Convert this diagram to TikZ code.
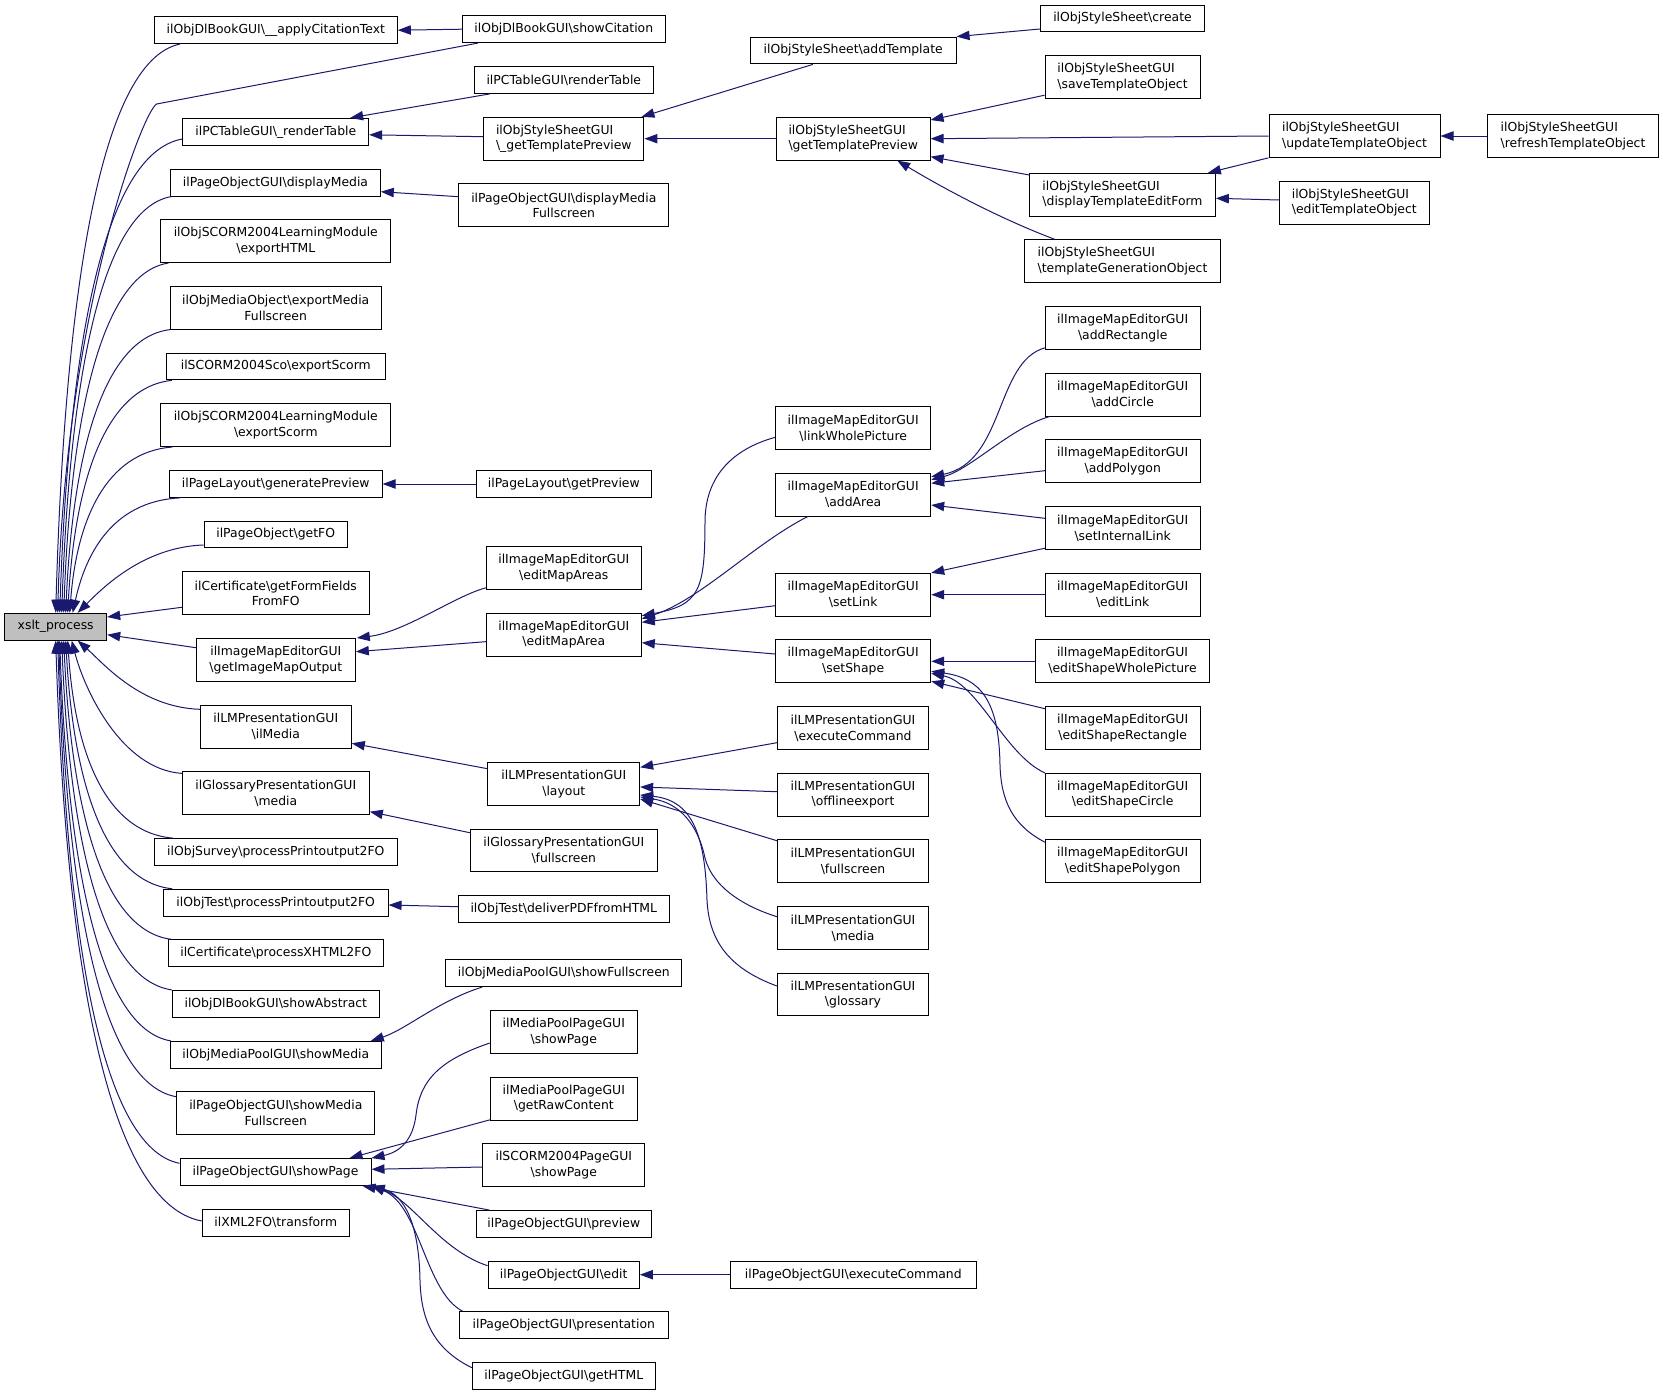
\documentclass[tikz,border=0pt]{standalone}
\usepackage{fontspec}
\newfontfamily\djv{DejaVu Sans}
\usetikzlibrary{arrows.meta,calc}
\definecolor{edgec}{HTML}{191970}
\definecolor{xfill}{HTML}{BFBFBF}
\newcommand\bsl{\textbackslash}
\newcommand\nfnt{\djv\fontsize{9.3}{11.8}\selectfont}
\begin{document}
\begin{tikzpicture}[x=0.75pt,y=-0.75pt,
  nd/.style={draw=black, line width=0.75pt, inner xsep=2pt, inner ysep=0pt, font=\nfnt, minimum height=20.1pt, align=center},
  nd2/.style={nd, minimum height=32pt},
  w/.style={minimum width=#1*0.75pt},
  e/.style={draw=edgec, line width=0.75pt, -{Triangle[length=9.75pt,width=7pt]}}]
\useasboundingbox (0,0) rectangle (1664,1395);
\fill[white] (0,0) rectangle (1664,1395);
% column 1
\node[nd,w=102,fill=xfill] (xslt) at (55.7,626.7) {xslt\_process};
\node[nd,w=243] (cite) at (275.8,30.2) {ilObjDlBookGUI\bsl\_\_applyCitationText};
\node[nd,w=185.7] (rtab) at (275.8,131.8) {ilPCTableGUI\bsl\_renderTable};
\node[nd,w=209.6] (dmedia) at (275.5,182.7) {ilPageObjectGUI\bsl displayMedia};
\node[nd2,w=229.7] (exphtml) at (275.8,241.2) {ilObjSCORM2004LearningModule\\\bsl exportHTML};
\node[nd2,w=210.7] (expmf) at (275.7,307.8) {ilObjMediaObject\bsl exportMedia\\Fullscreen};
\node[nd,w=219] (scoexp) at (275.8,366.5) {ilSCORM2004Sco\bsl exportScorm};
\node[nd2,w=229.7] (lmexp) at (275.8,425.2) {ilObjSCORM2004LearningModule\\\bsl exportScorm};
\node[nd,w=212.7] (genprev) at (275.7,484) {ilPageLayout\bsl generatePreview};
\node[nd,w=143.3] (getfo) at (275.7,534.5) {ilPageObject\bsl getFO};
\node[nd2,w=187] (formfo) at (275.8,593.3) {ilCertificate\bsl getFormFields\\FromFO};
\node[nd2,w=159] (imgout) at (275.8,659.8) {ilImageMapEditorGUI\\\bsl getImageMapOutput};
\node[nd2,w=151] (ilmedia) at (275.8,726.7) {ilLMPresentationGUI\\\bsl ilMedia};
\node[nd2,w=187] (glmedia) at (275.8,793.2) {ilGlossaryPresentationGUI\\\bsl media};
\node[nd,w=243] (survey) at (275.8,852) {ilObjSurvey\bsl processPrintoutput2FO};
\node[nd,w=224.7] (testpp) at (275.7,902.7) {ilObjTest\bsl processPrintoutput2FO};
\node[nd,w=215] (xhtml) at (275.8,953.2) {ilCertificate\bsl processXHTML2FO};
\node[nd,w=207] (abstract) at (275.8,1003.8) {ilObjDlBookGUI\bsl showAbstract};
\node[nd,w=211] (showmedia) at (275.8,1054.8) {ilObjMediaPoolGUI\bsl showMedia};
\node[nd2,w=198.3] (smfull) at (275.8,1113.2) {ilPageObjectGUI\bsl showMedia\\Fullscreen};
\node[nd,w=191] (showpage) at (275.5,1172) {ilPageObjectGUI\bsl showPage};
\node[nd,w=147] (xml2fo) at (275.8,1222.8) {ilXML2FO\bsl transform};
% column 2
\node[nd,w=203] (showcit) at (563.8,29.2) {ilObjDlBookGUI\bsl showCitation};
\node[nd,w=179] (rtable) at (563.8,80) {ilPCTableGUI\bsl renderTable};
\node[nd2,w=160.3,align=left] (gtpu) at (563.8,138.7) {ilObjStyleSheetGUI\\\bsl\_getTemplatePreview};
\node[nd2,w=209.7] (dmfull) at (563.8,205.3) {ilPageObjectGUI\bsl displayMedia\\Fullscreen};
\node[nd,w=175] (getprev) at (563.8,484) {ilPageLayout\bsl getPreview};
\node[nd2,w=155] (emas) at (563.8,568) {ilImageMapEditorGUI\\\bsl editMapAreas};
\node[nd2,w=155] (ema) at (563.8,634.7) {ilImageMapEditorGUI\\\bsl editMapArea};
\node[nd2,w=151.7] (layout) at (563.8,784) {ilLMPresentationGUI\\\bsl layout};
\node[nd2,w=187] (glfull) at (563.8,850.5) {ilGlossaryPresentationGUI\\\bsl fullscreen};
\node[nd,w=211] (deliver) at (563.8,909.2) {ilObjTest\bsl deliverPDFfromHTML};
\node[nd,w=236.3] (mpfull) at (563.8,973.2) {ilObjMediaPoolGUI\bsl showFullscreen};
\node[nd2,w=147] (mpshow) at (563.8,1032) {ilMediaPoolPageGUI\\\bsl showPage};
\node[nd2,w=147] (mpraw) at (563.8,1098.7) {ilMediaPoolPageGUI\\\bsl getRawContent};
\node[nd2,w=161.7] (scopage) at (563.8,1165.3) {ilSCORM2004PageGUI\\\bsl showPage};
\node[nd,w=175] (preview) at (563.8,1224) {ilPageObjectGUI\bsl preview};
\node[nd,w=151.3] (edit) at (563.7,1274.7) {ilPageObjectGUI\bsl edit};
\node[nd,w=209] (present) at (563.8,1325.2) {ilPageObjectGUI\bsl presentation};
\node[nd,w=183] (gethtml) at (563.8,1376) {ilPageObjectGUI\bsl getHTML};
% column 3
\node[nd,w=205.7] (addtpl) at (853.2,50.5) {ilObjStyleSheet\bsl addTemplate};
\node[nd2,w=153.7,align=left] (gtp) at (853.2,138.7) {ilObjStyleSheetGUI\\\bsl getTemplatePreview};
\node[nd2,w=155] (lwp) at (853.2,428) {ilImageMapEditorGUI\\\bsl linkWholePicture};
\node[nd2,w=155] (addarea) at (853.2,494.7) {ilImageMapEditorGUI\\\bsl addArea};
\node[nd2,w=155] (setlink) at (853.2,594.7) {ilImageMapEditorGUI\\\bsl setLink};
\node[nd2,w=155] (setshape) at (853.2,661.3) {ilImageMapEditorGUI\\\bsl setShape};
\node[nd2,w=151.3] (lmexec) at (853,728) {ilLMPresentationGUI\\\bsl executeCommand};
\node[nd2,w=151.3] (offline) at (853,794.7) {ilLMPresentationGUI\\\bsl offlineexport};
\node[nd2,w=151.3] (lmfull) at (853,861.3) {ilLMPresentationGUI\\\bsl fullscreen};
\node[nd2,w=151.3] (lmmedia) at (853,928) {ilLMPresentationGUI\\\bsl media};
\node[nd2,w=151.3] (glossary) at (853,994.5) {ilLMPresentationGUI\\\bsl glossary};
\node[nd,w=246] (pexec) at (853.3,1274.7) {ilPageObjectGUI\bsl executeCommand};
% column 4
\node[nd,w=164.4] (create) at (1122.5,18.5) {ilObjStyleSheet\bsl create};
\node[nd2,w=155,align=left] (savetpl) at (1122.5,77.2) {ilObjStyleSheetGUI\\\bsl saveTemplateObject};
\node[nd2,w=185.7,align=left] (dtef) at (1122.5,194.7) {ilObjStyleSheetGUI\\\bsl displayTemplateEditForm};
\node[nd2,w=196.3,align=left] (tgo) at (1122.5,261.2) {ilObjStyleSheetGUI\\\bsl templateGenerationObject};
\node[nd2,w=154.7] (addrect) at (1122.7,328) {ilImageMapEditorGUI\\\bsl addRectangle};
\node[nd2,w=154.7] (addcirc) at (1122.7,394.7) {ilImageMapEditorGUI\\\bsl addCircle};
\node[nd2,w=154.7] (addpoly) at (1122.7,461.3) {ilImageMapEditorGUI\\\bsl addPolygon};
\node[nd2,w=154.7] (setint) at (1122.7,528) {ilImageMapEditorGUI\\\bsl setInternalLink};
\node[nd2,w=154.7] (editlink) at (1122.7,594.7) {ilImageMapEditorGUI\\\bsl editLink};
\node[nd2,w=173.7] (eswp) at (1122.5,661.3) {ilImageMapEditorGUI\\\bsl editShapeWholePicture};
\node[nd2,w=154.7] (esrect) at (1122.7,728) {ilImageMapEditorGUI\\\bsl editShapeRectangle};
\node[nd2,w=154.7] (escirc) at (1122.7,794.7) {ilImageMapEditorGUI\\\bsl editShapeCircle};
\node[nd2,w=154.7] (espoly) at (1122.7,861.3) {ilImageMapEditorGUI\\\bsl editShapePolygon};
% columns 5, 6
\node[nd2,w=171,align=left] (update) at (1354.5,136) {ilObjStyleSheetGUI\\\bsl updateTemplateObject};
\node[nd2,w=150,align=left] (edittpl) at (1354.3,202.7) {ilObjStyleSheetGUI\\\bsl editTemplateObject};
\node[nd2,w=171.3,align=left] (refresh) at (1573,136) {ilObjStyleSheetGUI\\\bsl refreshTemplateObject};
% edges into xslt_process (upper)
\draw[e] ($(cite.south west)+(26,0)$) .. controls +(-81,17) and +(9,-313) .. (xslt.north);
\draw[e] ($(showcit.south west)+(16,0)$) -- (156.7,104) .. controls +(-14,7) and +(8,-300) .. ($(xslt.north)+(2,0)$);
\draw[e] ($(rtab.west)+(0,7.2)$) .. controls +(-80,14) and +(9,-261) .. ($(xslt.north)+(4,0)$);
\draw[e] ($(dmedia.south west)+(1,0)$) .. controls +(-71,12.5) and +(8,-229) .. ($(xslt.north)+(6,0)$);
\draw[e] ($(exphtml.south west)+(8,0)$) .. controls +(-68,10.5) and +(7,-193) .. ($(xslt.north)+(8,0)$);
\draw[e] (expmf.south west) .. controls +(-68,8.5) and +(7,-156) .. ($(xslt.north)+(10,0)$);
\draw[e] ($(scoexp.south west)+(6,0)$) .. controls +(-68,7) and +(7,-128) .. ($(xslt.north)+(12,0)$);
\draw[e] ($(lmexp.south west)+(12,0)$) .. controls +(-67,5) and +(7,-92) .. ($(xslt.north)+(14,0)$);
\draw[e] ($(genprev.south west)+(11,0)$) .. controls +(-70,3.5) and +(12,-55) .. ($(xslt.north)+(17,0)$);
\draw[e] ($(getfo.west)+(0,10.5)$) .. controls +(-60,2) and +(25,-25) .. ($(xslt.north)+(22,0)$);
\draw[e] ($(formfo.west)+(0,14)$) -- ($(xslt.east)+(0,-9.7)$);
\draw[e] ($(imgout.west)+(0,-12.1)$) -- ($(xslt.east)+(0,8)$);
% edges into xslt_process (lower)
\draw[e] ($(ilmedia.west)+(0,-17.4)$) .. controls +(-60,-2) and +(25,22) .. ($(xslt.south)+(22,0)$);
\draw[e] ($(glmedia.north west)+(0,2)$) .. controls +(-60,-4) and +(13,50) .. ($(xslt.south)+(16,0)$);
\draw[e] ($(survey.north west)+(19,0)$) .. controls +(-69,-6) and +(7,109) .. ($(xslt.south)+(12,0)$);
\draw[e] ($(testpp.north west)+(9.4,0)$) .. controls +(-70,-7.5) and +(7.5,137) .. ($(xslt.south)+(10,0)$);
\draw[e] ($(xhtml.north west)+(3.4,0)$) .. controls +(-70,-9) and +(7.6,165) .. ($(xslt.south)+(8,0)$);
\draw[e] (abstract.north west) .. controls +(-72,-10.5) and +(7.7,193) .. ($(xslt.south)+(6,0)$);
\draw[e] ($(showmedia.north west)+(1,0)$) .. controls +(-72,-12) and +(7.8,221) .. ($(xslt.south)+(4,0)$);
\draw[e] ($(smfull.west)+(0,-16.5)$) .. controls +(-77,-13.7) and +(8.3,251) .. ($(xslt.south)+(3,0)$);
\draw[e] ($(showpage.west)+(0,-8.7)$) .. controls +(-80,-15.7) and +(8.6,288) .. ($(xslt.south)+(2,0)$);
\draw[e] ($(xml2fo.west)+(0,-1.8)$) .. controls +(-95,-17.4) and +(10.3,320) .. (xslt.south);
% other edges
\draw[e] (showcit.west) -- (cite.east);
\draw[e] ($(rtable.south west)+(16,0)$) -- ($(rtab.north east)+(-19,0)$);
\draw[e] ($(gtpu.west)+(0,-2)$) -- ($(rtab.east)+(0,3)$);
\draw[e] ($(addtpl.south west)+(63,0)$) -- ($(gtpu.north east)+(-3,0)$);
\draw[e] (gtp.west) -- (gtpu.east);
\draw[e] ($(create.west)+(0,10.5)$) -- (addtpl.north east);
\draw[e] ($(savetpl.west)+(0,18)$) -- ($(gtp.east)+(0,-18.7)$);
\draw[e] (update.west) -- (gtp.east);
\draw[e] ($(dtef.west)+(0,-19.7)$) -- ($(gtp.east)+(0,18)$);
\draw[e] ($(tgo.north west)+(31,0)$) .. controls +(-53,-20) and +(50,30) .. ($(gtp.south)+(44,0)$);
\draw[e] (update.south west) -- ($(dtef.north east)+(-8,0)$);
\draw[e] ($(edittpl.west)+(0,-2.7)$) -- ($(dtef.east)+(0,3.6)$);
\draw[e] (refresh.west) -- (update.east);
\draw[e] ($(dmfull.west)+(0,-8.6)$) -- ($(dmedia.east)+(0,9)$);
\draw[e] (getprev.west) -- (genprev.east);
\draw[e] ($(emas.south west)+(0,-2)$) .. controls (455,596) and (405,632) .. ($(imgout.north east)+(1,0)$);
\draw[e] ($(ema.west)+(0,7)$) -- ($(imgout.east)+(0,-8.1)$);
\draw[e] ($(lwp.west)+(0,9.3)$) .. controls (740,447) and (706,470) .. (705,520) .. controls (705,590) and (700,605) .. ($(ema.east)+(0,-19)$);
\draw[e] ($(addarea.south west)+(32.6,0)$) .. controls (755,543) and (700,600) .. ($(ema.east)+(0,-16)$);
\draw[e] ($(setlink.west)+(0,11)$) -- ($(ema.east)+(0,-12.4)$);
\draw[e] ($(setshape.west)+(0,-7.3)$) -- ($(ema.east)+(0,8)$);
\draw[e] ($(addrect.south west)+(0,-2)$) .. controls (995,362) and (1005,462) .. ($(addarea.east)+(0,-18)$);
\draw[e] ($(addcirc.south west)+(4.7,0)$) .. controls (1010,428) and (970,470) .. ($(addarea.east)+(0,-15)$);
\draw[e] ($(addpoly.west)+(0,9.4)$) -- ($(addarea.east)+(0,-11.4)$);
\draw[e] ($(setint.west)+(0,-9.7)$) -- ($(addarea.east)+(0,10.3)$);
\draw[e] ($(setint.south west)+(0,-1.6)$) -- (setlink.north east);
\draw[e] (editlink.west) -- (setlink.east);
\draw[e] (eswp.west) -- (setshape.east);
\draw[e] ($(esrect.west)+(0,-19.3)$) -- ($(setshape.east)+(0,20)$);
\draw[e] (escirc.north west) .. controls (1005,755) and (978,683) .. ($(setshape.east)+(0,12)$);
\draw[e] ($(espoly.north west)+(0,2.7)$) .. controls (1012,825) and (1001,800) .. (1000,765) .. controls (999,700) and (980,678) .. ($(setshape.east)+(0,10)$);
\draw[e] ($(layout.west)+(0,-15.3)$) -- ($(ilmedia.east)+(0,16.6)$);
\draw[e] ($(glfull.west)+(0,-17.8)$) -- ($(glmedia.east)+(0,18.5)$);
\draw[e] ($(lmexec.west)+(0,14.7)$) -- ($(layout.east)+(0,-16.7)$);
\draw[e] ($(offline.west)+(0,-3)$) -- ($(layout.east)+(0,3)$);
\draw[e] ($(lmfull.west)+(0,-20.6)$) -- ($(layout.east)+(0,15)$);
\draw[e] ($(lmmedia.west)+(0,-11.3)$) .. controls (740,905) and (712,885) .. (705,858) .. controls (698,825) and (680,803) .. ($(layout.east)+(0,13)$);
\draw[e] ($(glossary.west)+(0,-8.5)$) .. controls (728,968) and (709,940) .. (707,900) .. controls (705,830) and (690,800) .. ($(layout.east)+(0,11)$);
\draw[e] ($(deliver.west)+(0,-2.5)$) -- ($(testpp.east)+(0,2.3)$);
\draw[e] ($(mpfull.south west)+(37,0)$) .. controls (440,1000) and (405,1030) .. ($(showmedia.north east)+(-11,0)$);
\draw[e] ($(mpshow.west)+(0,11)$) .. controls (440,1060) and (420,1080) .. (416,1115) .. controls (413,1140) and (400,1152) .. (showpage.north east);
\draw[e] ($(mpraw.south west)+(0,-0.7)$) -- ($(showpage.north east)+(-22,0)$);
\draw[e] ($(scopage.west)+(0,1.7)$) -- ($(showpage.east)+(0,-2.7)$);
\draw[e] ($(preview.north west)+(13.7,0)$) -- ($(showpage.south east)+(-9,0)$);
\draw[e] ($(edit.west)+(0,-9)$) .. controls (440,1250) and (412,1200) .. (showpage.south east);
\draw[e] ($(present.north west)+(4,0)$) .. controls (425,1292) and (420,1205) .. (showpage.south east);
\draw[e] ($(gethtml.west)+(0,-8.3)$) .. controls (432,1348) and (421,1318) .. (420,1280) .. controls (419,1225) and (405,1195) .. (showpage.south east);
\draw[e] (pexec.west) -- (edit.east);
\end{tikzpicture}
\end{document}
